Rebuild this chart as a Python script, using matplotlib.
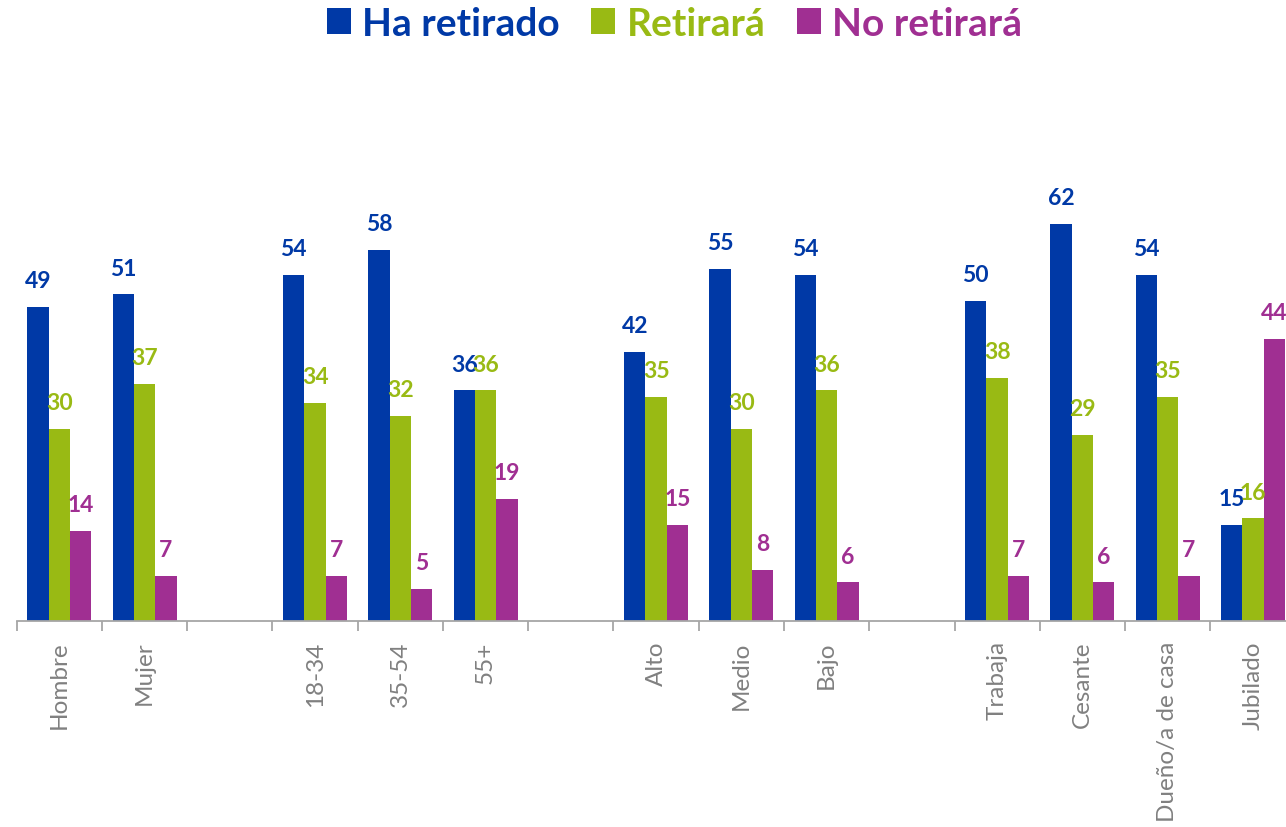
import numpy as np
import matplotlib.pyplot as plt

plt.rcParams['font.family'] = ['Lato', 'DejaVu Sans']

# categories (empty strings are the gaps between groups)
categories = ["Hombre", "Mujer", "", "18-34", "35-54", "55+", "", "Alto", "Medio", "Bajo", "",
              "Trabaja", "Cesante", "Dueño/a de casa", "Jubilado"]
ha_retirado = [49, 51, None, 54, 58, 36, None, 42, 55, 54, None, 50, 62, 54, 15]
retirara = [30, 37, None, 34, 32, 36, None, 35, 30, 36, None, 38, 29, 35, 16]
no_retirara = [14, 7, None, 7, 5, 19, None, 15, 8, 6, None, 7, 6, 7, 44]

series_names = ["Ha retirado", "Retirará", "No retirará"]
colors = ["#0039A6", "#99BA14", "#A02F92"]

fig = plt.figure(figsize=(12.86, 8.28), dpi=100)
ax = fig.add_axes([0.013, 0.249, 0.9944, 0.541])

x = np.arange(len(categories))
w = 0.25
for i, (name, vals, col) in enumerate(zip(series_names, [ha_retirado, retirara, no_retirara], colors)):
    xs = [xi + (i - 1) * w for xi, v in zip(x, vals) if v is not None]
    ys = [v for v in vals if v is not None]
    ax.bar(xs, ys, width=w, color=col, label=name)
    for bx, by in zip(xs, ys):
        ax.annotate(str(by), (bx, by), xytext=(0, 19), textcoords="offset points",
                    ha="center", va="center", fontsize=16.5, fontweight="bold", color=col)

ax.set_xlim(-0.5, len(categories) - 0.5)
ax.set_ylim(0, 70)

for side in ["top", "right", "left"]:
    ax.spines[side].set_visible(False)
ax.spines["bottom"].set_color("#A6A6A6")
ax.spines["bottom"].set_linewidth(1.3)
ax.set_yticks([])

# tick marks at slot boundaries, labels at slot centres
ax.set_xticks(np.arange(len(categories) + 1) - 0.5)
ax.set_xticklabels([])
ax.tick_params(axis="x", which="major", length=7, width=1.3, color="#A6A6A6")
ax.set_xticks(x, minor=True)
ax.set_xticklabels(categories, minor=True, rotation=90, fontsize=17.5, color="#808080")
ax.tick_params(axis="x", which="minor", length=0, pad=14)

leg = fig.legend(loc="center", bbox_to_anchor=(0.5245, 0.971), ncol=3, frameon=False,
                 prop={"size": 28, "weight": "bold"}, handlelength=0.62, handleheight=0.68,
                 handletextpad=0.3, columnspacing=0.8)
for txt, col in zip(leg.get_texts(), colors):
    txt.set_color(col)

fig.savefig("out.png", dpi=100)
